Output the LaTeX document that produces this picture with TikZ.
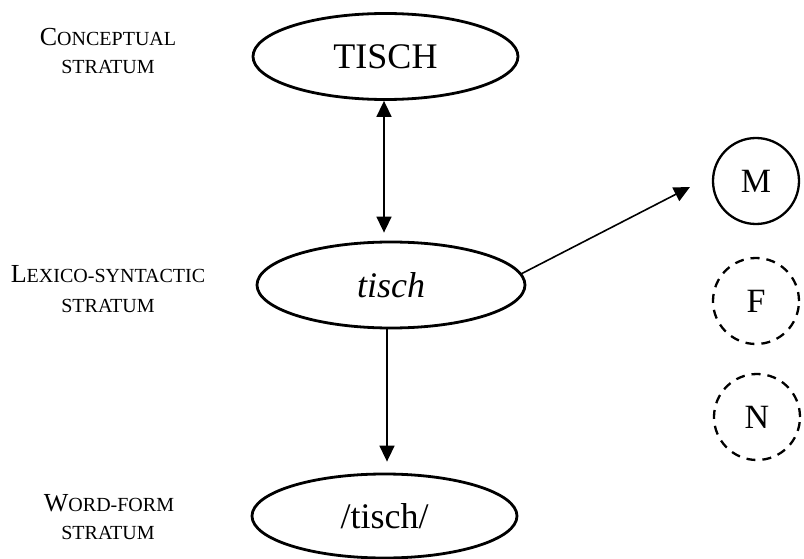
\documentclass[tikz,border=0pt]{standalone}
\usepackage{fontspec}
\setmainfont{Liberation Serif}
\usetikzlibrary{shapes.geometric,arrows.meta}
\newcommand\SCbig[1]{{\fontsize{26}{26}\selectfont #1}}
\newcommand\SCsmall[1]{{\fontsize{20}{20}\selectfont #1}}
\begin{document}
\begin{tikzpicture}[x=1pt,y=-1pt,
  stratumnode/.style={draw,ellipse,line width=2.8pt,inner sep=0pt,minimum width=265pt,minimum height=86pt,font=\fontsize{36}{40}\selectfont},
  gendernode/.style={draw,circle,line width=2.3pt,inner sep=0pt,minimum size=86pt,font=\fontsize{34}{36}\selectfont},
  dashedgender/.style={gendernode,dash pattern=on 9pt off 7pt},
  tipstyle/.style={line width=1.6pt},
  conn/.style={tipstyle,-{Triangle[length=16pt,width=15pt]}},
  dconn/.style={tipstyle,{Triangle[length=16pt,width=15pt]}-{Triangle[length=16pt,width=15pt]}},
  lab/.style={anchor=base,inner sep=0pt},
]
\useasboundingbox (0,0) rectangle (804,559);

% strata nodes
\node[stratumnode] (TISCH) at (385.5,56.5) {TISCH};
\node[stratumnode,minimum width=268pt] (tisch) at (391,285) {\itshape tisch};
\node[stratumnode,minimum height=84pt] (wf) at (384.5,516) {/tisch/};

% gender nodes
\node[gendernode] (M) at (756,181) {M};
\node[dashedgender] (F) at (756,301) {F};
\node[dashedgender] (N) at (757,417) {N};

% labels
\node[lab] (c1) at (108,45.7) {\SCbig{C}\SCsmall{ONCEPTUAL}};
\node[lab] (c2) at (108,74) {\SCsmall{STRATUM}};
\node[lab] (l1) at (108,283) {\SCbig{L}\SCsmall{EXICO-SYNTACTIC}};
\node[lab] (l2) at (108,312) {\SCsmall{STRATUM}};
\node[lab] (w1) at (109,511) {\SCbig{W}\SCsmall{ORD-FORM}};
\node[lab] (w2) at (108,539) {\SCsmall{STRATUM}};

% connectors
\coordinate (Mtip) at (690,187);
\draw[dconn,shorten >=8pt] ([xshift=-1.5pt]TISCH.south) -- ([xshift=-1.5pt]TISCH.south |- tisch.north);
\draw[conn,shorten >=11pt] ([xshift=-4pt]tisch.south) -- ([xshift=-4pt]tisch.south |- wf.north);
\draw[conn] (tisch.5) -- (Mtip);
\end{tikzpicture}
\end{document}
